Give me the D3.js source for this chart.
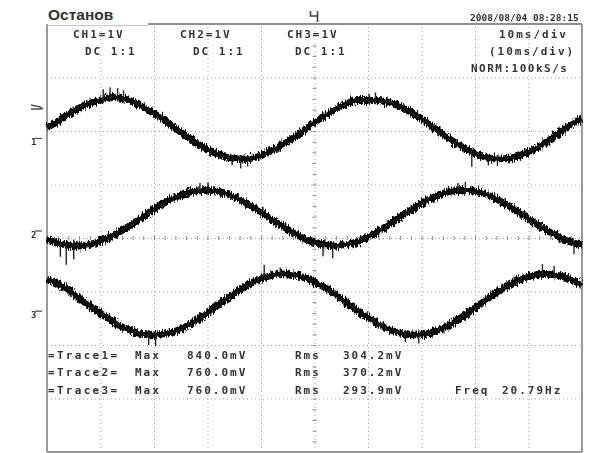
<!DOCTYPE html>
<html>
<head>
<meta charset="utf-8">
<script src="https://cdn.jsdelivr.net/npm/d3@7"></script>
<style>
  html, body { margin: 0; padding: 0; background: #fff; }
  svg { display: block; }
  .scope { font-family: "DejaVu Sans Mono", "Liberation Mono", monospace; fill: #333; font-weight: bold; }
</style>
</head>
<body>
<script>
// Sample times (ms) of the captured waveforms, 10 ms/div over 10 divisions
const sampleTimes = [0,2,4,6,8,10,12,14,16,18,20,22,24,26,28,30,32,34,36,38,40,42,44,46,48,50,
  52,54,56,58,60,62,64,66,68,70,72,74,76,78,80,82,84,86,88,90,92,94,96,98,100];

// Trace levels in divisions (1 V/div) relative to the screen centre
const trace1 = [2.06,2.18,2.32,2.43,2.52,2.58,2.63,2.61,2.55,2.44,2.33,2.20,2.05,1.91,1.77,1.66,1.56,
  1.50,1.48,1.49,1.54,1.63,1.74,1.87,2.01,2.16,2.29,2.41,2.51,2.57,2.57,2.57,2.53,2.46,2.36,2.23,
  2.08,1.94,1.80,1.68,1.58,1.51,1.48,1.49,1.53,1.61,1.71,1.84,1.98,2.13,2.22];
const trace2 = [-0.02,-0.09,-0.14,-0.15,-0.12,-0.06,0.03,0.14,0.27,0.40,0.54,0.66,0.76,0.84,0.88,0.89,
  0.87,0.81,0.72,0.61,0.49,0.35,0.22,0.10,-0.01,-0.09,-0.13,-0.15,-0.12,-0.07,0.02,0.13,0.26,0.39,
  0.52,0.65,0.75,0.83,0.88,0.89,0.87,0.82,0.73,0.62,0.50,0.36,0.23,0.11,0.00,-0.08,-0.13];
const trace3 = [-0.77,-0.86,-0.98,-1.12,-1.27,-1.41,-1.54,-1.66,-1.74,-1.80,-1.81,-1.79,-1.74,-1.65,
  -1.53,-1.40,-1.25,-1.11,-0.97,-0.85,-0.76,-0.70,-0.67,-0.69,-0.74,-0.82,-0.93,-1.06,-1.21,-1.35,
  -1.49,-1.61,-1.71,-1.78,-1.81,-1.81,-1.76,-1.69,-1.58,-1.45,-1.31,-1.16,-1.02,-0.90,-0.79,-0.72,
  -0.68,-0.68,-0.71,-0.78,-0.88];

// Noise spikes: [time ms, from level, to level]
const trace1Spikes = [[10.5,2.52,2.78],[11.8,2.55,2.82],[13.2,2.55,2.80],[14.3,2.52,2.76],
  [34.6,1.55,1.36],[36.2,1.55,1.30],[37.5,1.55,1.34],[60.2,2.50,2.70],[61.4,2.50,2.72],
  [79.4,1.62,1.33],[82.5,1.56,1.36],[84.2,1.55,1.35]];
const trace2Spikes = [[2.5,-0.05,-0.35],[3.6,-0.08,-0.50],[5.0,-0.03,-0.40],[28.6,0.82,1.03],
  [30.1,0.82,1.04],[51.6,-0.06,-0.34],[53.4,-0.08,-0.38],[76.8,0.82,1.03],[78.2,0.82,1.05],
  [98.5,-0.05,-0.30]];
const trace3Spikes = [[19.0,-1.72,-2.00],[20.3,-1.72,-2.02],[40.6,-0.78,-0.50],[43.6,-0.75,-0.55],
  [67.0,-1.72,-1.95],[69.5,-1.72,-1.97],[92.6,-0.75,-0.49],[94.8,-0.75,-0.52]];

// Screen texts
const statusLabel = "Останов";
const channelLabels = ["CH1=1V", "CH2=1V", "CH3=1V"];
const couplingLabels = ["DC 1:1", "DC 1:1", "DC 1:1"];
const timebaseLabels = ["10ms/div", "(10ms/div)", "NORM:100kS/s"];
const timestamp = "2008/08/04 08:28:15";
const traceNames = ["=Trace1=", "=Trace2=", "=Trace3="];
const maxValues = ["840.0mV", "760.0mV", "760.0mV"];
const rmsValues = ["304.2mV", "370.2mV", "293.9mV"];
const freqLabel = ["Freq", "20.79Hz"];
const groundMarks = [{ch: "1", level: 1.88}, {ch: "2", level: 0.15}, {ch: "3", level: -1.35}];
const triggerLevel = 2.43;

const W = 597, H = 453;
const svg = d3.select("body").append("svg").attr("width", W).attr("height", H);

const x = d3.scaleLinear().domain([0, 100]).range([47, 582]);
const y = d3.scaleLinear().domain([-4, 4]).range([452, 24]);

const defs = svg.append("defs");
// grainy vertical jitter for the sampled traces
const fz = defs.append("filter").attr("id", "fuzz")
  .attr("filterUnits", "userSpaceOnUse").attr("x", 0).attr("y", 0)
  .attr("width", W).attr("height", H).attr("color-interpolation-filters", "sRGB");
fz.append("feTurbulence").attr("type", "fractalNoise").attr("baseFrequency", "0.75 0.2")
  .attr("numOctaves", 2).attr("seed", 7).attr("result", "noise");
fz.append("feColorMatrix").attr("in", "noise").attr("type", "matrix")
  .attr("values", "0 0 0 0 0.5  0 1 0 0 0  0 0 0 0 0  0 0 0 0 1").attr("result", "dy");
fz.append("feDisplacementMap").attr("in", "SourceGraphic").attr("in2", "dy").attr("scale", 9)
  .attr("xChannelSelector", "R").attr("yChannelSelector", "G").attr("result", "disp");
fz.append("feGaussianBlur").attr("in", "disp").attr("stdDeviation", 0.45);
// soft LCD text
defs.append("filter").attr("id", "soft").append("feGaussianBlur").attr("stdDeviation", 0.35);

const plotH = y(-4) - y(4), plotW = x(100) - x(0);

// dotted graticule
const dotted = g => {
  g.select(".domain").remove();
  g.selectAll(".tick line").attr("stroke", "#a0a0a0").attr("stroke-dasharray", "1,3");
};
svg.append("g").attr("transform", `translate(0,${y(-4)})`)
  .call(d3.axisBottom(x).tickValues([10,20,30,40,50,60,70,80,90]).tickSize(-plotH).tickFormat(""))
  .call(dotted);
svg.append("g").attr("transform", `translate(${x(0)},0)`)
  .call(d3.axisLeft(y).tickValues([-3,-2,-1,0,1,2,3]).tickSize(-plotW).tickFormat(""))
  .call(dotted);

// minor ticks on the centre axes
const minorT = d3.range(0, 100.001, 2);
const minorV = d3.range(-4, 4.001, 0.2);
svg.append("g").attr("transform", `translate(0,${y(0) + 2})`)
  .call(d3.axisTop(x).tickValues(minorT).tickSize(4).tickFormat(""))
  .call(g => { g.select(".domain").remove(); g.selectAll("line").attr("stroke", "#8a8a8a"); });
svg.append("g").attr("transform", `translate(${x(50) + 2},0)`)
  .call(d3.axisLeft(y).tickValues(minorV).tickSize(4).tickFormat(""))
  .call(g => { g.select(".domain").remove(); g.selectAll("line").attr("stroke", "#8a8a8a"); });

// frame
svg.append("line").attr("x1", x(0)).attr("x2", x(0)).attr("y1", y(4)).attr("y2", y(-4))
  .attr("stroke", "#999").attr("stroke-width", 2);
svg.append("line").attr("x1", x(100)).attr("x2", x(100)).attr("y1", y(4)).attr("y2", y(-4))
  .attr("stroke", "#999").attr("stroke-width", 2);
svg.append("line").attr("x1", x(0)).attr("x2", x(100)).attr("y1", y(-4)).attr("y2", y(-4))
  .attr("stroke", "#999").attr("stroke-width", 2);
svg.append("line").attr("x1", 148).attr("x2", x(100)).attr("y1", y(4)).attr("y2", y(4))
  .attr("stroke", "#8f8f8f").attr("stroke-width", 2);
svg.append("line").attr("x1", x(0)).attr("x2", 148).attr("y1", y(4) + 1.5).attr("y2", y(4) + 1.5)
  .attr("stroke", "#c8c8c8").attr("stroke-width", 1);

// traces
const line = d3.line().x((d, i) => x(sampleTimes[i])).y(d => y(d)).curve(d3.curveMonotoneX);
const traceG = svg.append("g").attr("filter", "url(#fuzz)");
[trace1, trace2, trace3].forEach(tr => {
  traceG.append("path").attr("d", line(tr)).attr("fill", "none")
    .attr("stroke", "#000").attr("stroke-width", 6.8).attr("stroke-linejoin", "round");
});
const coreG = svg.append("g").attr("filter", "url(#soft)");
[trace1, trace2, trace3].forEach(tr => {
  coreG.append("path").attr("d", line(tr)).attr("fill", "none")
    .attr("stroke", "#111").attr("stroke-width", 3.4).attr("stroke-linejoin", "round");
});
const spikeG = svg.append("g").attr("filter", "url(#soft)");
[trace1Spikes, trace2Spikes, trace3Spikes].forEach(sp => {
  spikeG.selectAll(null).data(sp).join("line")
    .attr("x1", d => x(d[0])).attr("x2", d => x(d[0]))
    .attr("y1", d => y(d[1])).attr("y2", d => y(d[2]))
    .attr("stroke", "#222").attr("stroke-width", 1.4);
});

// status tag
svg.append("text").attr("x", 48).attr("y", 20).text(statusLabel)
  .attr("font-family", "Liberation Sans, Arial, sans-serif").attr("font-weight", "bold")
  .attr("font-size", 15.5).attr("fill", "#333");

// scope texts
const textG = svg.append("g").attr("filter", "url(#soft)");
const txt = (s, tx, ty, size = 11, ls = 2) => textG.append("text").attr("class", "scope")
  .attr("x", tx).attr("y", ty).attr("font-size", size).attr("letter-spacing", ls).text(s);

const chX = [73, 180, 287], dcX = [85, 193, 295];
channelLabels.forEach((s, i) => txt(s, chX[i], 38));
couplingLabels.forEach((s, i) => txt(s, dcX[i], 55));
txt(timebaseLabels[0], 499, 38);
txt(timebaseLabels[1], 489, 55);
txt(timebaseLabels[2], 471, 72, 11, 1.5);
txt(timestamp, 470, 21, 9.5, 0);

const rowY = [359, 376, 394];
traceNames.forEach((s, i) => {
  txt(s, 48, rowY[i], 11, 2.3);
  txt("Max", 135, rowY[i]);
  txt(maxValues[i], 187, rowY[i]);
  txt("Rms", 295, rowY[i]);
  txt(rmsValues[i], 343, rowY[i]);
});
txt(freqLabel[0], 455, rowY[2]);
txt(freqLabel[1], 502, rowY[2]);

// trigger position marker above the frame
textG.append("path")
  .attr("d", `M${x(50) - 4},11 L${x(50) - 4},16 L${x(50) + 3},16 M${x(50) + 3},11 L${x(50) + 3},22`)
  .attr("stroke", "#444").attr("stroke-width", 1.6).attr("fill", "none");

// trigger level and ground markers left of the frame
const tl = y(triggerLevel);
textG.append("path").attr("d", `M31,${tl - 3} L40,${tl - 1} L43,${tl + 1} M31,${tl + 1} L42,${tl + 1}`)
  .attr("stroke", "#555").attr("stroke-width", 1.5).attr("fill", "none");
groundMarks.forEach(m => {
  const gy = y(m.level);
  textG.append("text").attr("class", "scope").attr("x", 31).attr("y", gy + 8)
    .attr("font-size", 9).text(m.ch);
  textG.append("line").attr("x1", 35).attr("x2", 42).attr("y1", gy + 1).attr("y2", gy + 1)
    .attr("stroke", "#555").attr("stroke-width", 1.3);
});
</script>
</body>
</html>
